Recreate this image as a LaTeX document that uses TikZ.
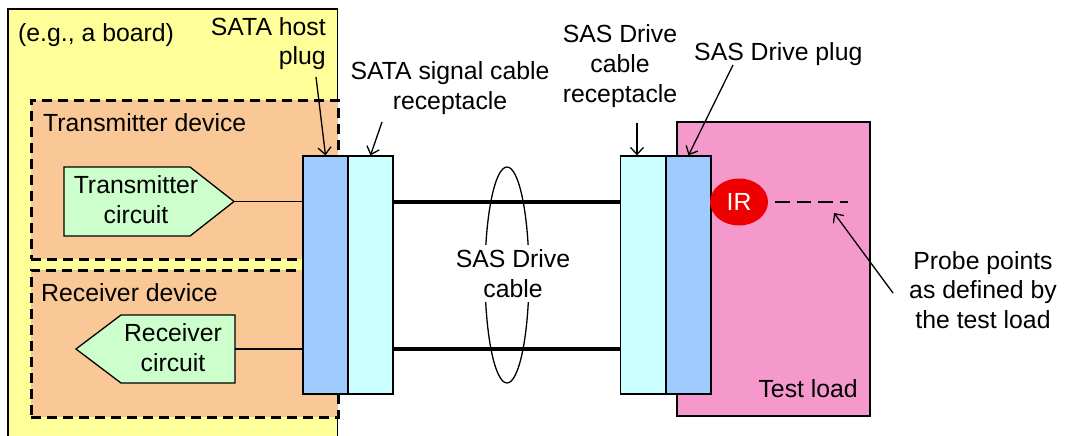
\documentclass[tikz,border=0pt]{standalone}
\usepackage{fontspec}
\setmainfont{Liberation Sans}
\usetikzlibrary{arrows.meta,shapes.geometric,calc}
\definecolor{boardY}{HTML}{FFFF99}
\definecolor{devO}{HTML}{F9C896}
\definecolor{circG}{HTML}{CCFFCC}
\definecolor{plugB}{HTML}{9FCBFF}
\definecolor{recC}{HTML}{CCFFFF}
\definecolor{loadP}{HTML}{F598CB}
\definecolor{irR}{HTML}{EE0000}
\begin{document}
\begin{tikzpicture}[x=1pt,y=-1pt,
  font=\fontsize{24.8pt}{29.5pt}\selectfont,
  thinline/.style={line width=1.3pt},
  devbox/.style={fill=devO, draw=black, line width=2.5pt, dash pattern=on 10pt off 6pt, inner sep=0, anchor=north west},
  plugbox/.style={draw=black, line width=1.3pt, fill=plugB, minimum width=45pt, minimum height=238pt, inner sep=0},
  recbox/.style={draw=black, line width=1.3pt, fill=recC, minimum width=45pt, minimum height=238pt, inner sep=0},
  circbox/.style={draw=black, line width=1.3pt, fill=circG},
  lbl/.style={inner sep=0, align=center, anchor=base},
  callout/.style={line width=1.3pt, -{Straight Barb[length=7pt,width=13pt]}},
  cablewire/.style={line width=4pt}
]
\useasboundingbox (0,0) rectangle (1068,436);
\fill[white] (0,0) rectangle (1068,436);

% board
\node[fill=boardY, inner sep=0, minimum width=329pt, minimum height=432pt, anchor=north west] (board) at (8,9) {};
\draw[thinline] (board.south west) -- (board.north west) -- (board.north east) -- (board.south east);
\node[inner sep=0, anchor=base west] (eg) at (18,42) {(e.g., a board)};

% devices
\node[devbox, minimum width=307pt, minimum height=159pt] (txdev) at (30,99) {};
\node[inner sep=0, anchor=base west] (txdevlbl) at (43,131) {Transmitter device};
\node[devbox, minimum width=307pt, minimum height=147pt] (rxdev) at (30,269) {};
\node[inner sep=0, anchor=base west] (rxdevlbl) at (41,301) {Receiver device};

% circuits
\coordinate (txtip) at (234,201.5);
\draw[circbox] (64,167) -- (190,167) -- (txtip) -- (190,236) -- (64,236) -- cycle;
\node[lbl] (txcirc) at (136,223) {Transmitter\\circuit};
\coordinate (rxtip) at (76,349);
\coordinate (rxright) at (235,349);
\draw[circbox] (235,315) -- (121,315) -- (rxtip) -- (121,383) -- (235,383) -- cycle;
\node[lbl] (rxcirc) at (173,371) {Receiver\\circuit};

% test load
\node[draw=black, line width=1.3pt, fill=loadP, minimum width=193pt, minimum height=294pt, inner sep=0] (load) at (773.5,269) {};
\node[inner sep=0, anchor=base east] (loadlbl) at (858,397) {Test load};

% plugs and receptacles
\node[plugbox] (hostplug) at (325.5,275) {};
\node[recbox] (hostrec) at (370.5,275) {};
\node[recbox] (sasrec) at (643,275) {};
\node[plugbox] (sasplug) at (688.5,275) {};

% circuit links
\draw[thinline] (txtip) -- (hostplug.west |- txtip);
\draw[thinline] (rxright) -- (hostplug.west |- rxright);

% cable
\draw[cablewire] (hostrec.east |- txtip) -- (sasrec.west |- txtip);
\draw[cablewire] (hostrec.east |- rxright) -- (sasrec.west |- rxright);
\node[draw=black, line width=1.3pt, ellipse, minimum width=44pt, minimum height=216pt, inner sep=0] (bundle) at (507,275) {};
\node[lbl, fill=white, inner sep=5pt] (cablelbl) at (513,297) {SAS Drive\\cable};

% IR and probe
\node[ellipse, fill=irR, text=white, minimum width=58pt, minimum height=47pt, inner sep=0] (ir) at (739,202) {IR};
\coordinate (probeL) at (775,202);
\coordinate (probeR) at (848,202);
\draw[line width=2.5pt, dash pattern=on 14.5pt off 7pt] (probeL) -- (probeR);

% labels
\node[inner sep=0, align=right, anchor=base east] (hostpluglbl) at (326,65) {SATA host\\plug};
\node[lbl] (hostreclbl) at (450,109) {SATA signal cable\\receptacle};
\node[lbl] (sasreclbl) at (620,102) {SAS Drive\\cable\\receptacle};
\node[inner sep=0, anchor=base west] (saspluglbl) at (694,60) {SAS Drive plug};
\node[lbl] (probelbl) at (983,328) {Probe points\\as defined by\\the test load};

% callouts
\coordinate (c1) at (316,77);
\coordinate (c2) at (382,122);
\coordinate (c3) at (637,123);
\coordinate (c4) at (733,65);
\coordinate (c5) at (893,293);
\coordinate (c5t) at (834,213);
\draw[callout] (c1) -- (hostplug.north);
\draw[callout] (c2) -- (hostrec.north);
\draw[callout] (c3) -- (c3 |- sasrec.north);
\draw[callout] (c4) -- (sasplug.north);
\draw[callout] (c5) -- (c5t);
\end{tikzpicture}
\end{document}
